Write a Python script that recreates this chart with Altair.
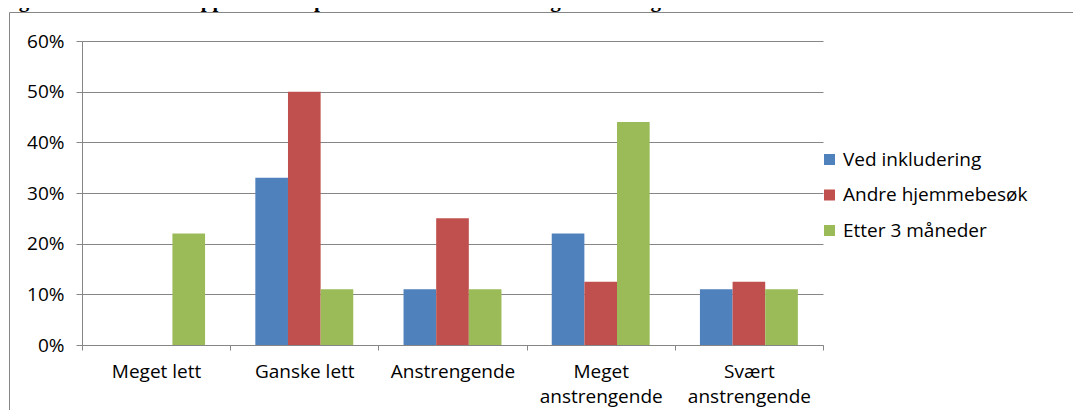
import altair as alt
import pandas as pd

categories = ["Meget lett", "Ganske lett", "Anstrengende", "Meget anstrengende", "Svært anstrengende"]
series = ["Ved inkludering", "Andre hjemmebesøk", "Etter 3 måneder"]
ved_inkludering = [0, 33, 11, 22, 11]
andre_hjemmebesok = [0, 50, 25, 12.5, 12.5]
etter_3_maneder = [22, 11, 11, 44, 11]
colors = ["#4F81BD", "#C0504D", "#9BBB59"]
y_ticks = [0, 0.1, 0.2, 0.3, 0.4, 0.5, 0.6]
title_text = "Figur 3: Deltakernes opplevelse av pusten ved aktivitet kartlagt med Borgskala"

rows = []
for s, vals in zip(series, [ved_inkludering, andre_hjemmebesok, etter_3_maneder]):
    for c, v in zip(categories, vals):
        rows.append({"Kategori": c, "Serie": s, "Verdi": v / 100})
df = pd.DataFrame(rows)

W, H = 741, 304
FONT = "Open Sans"
FS = 19
GRAY = "#868686"

bars = alt.Chart(df).mark_bar().encode(
    x=alt.X("Kategori:N", sort=categories,
            scale=alt.Scale(paddingInner=0, paddingOuter=0),
            axis=alt.Axis(title=None, labelAngle=0, tickBand="extent", tickSize=5,
                          tickColor=GRAY, domainColor=GRAY, labelFont=FONT, labelFontSize=FS,
                          labelColor="#000000", labelPadding=12, labelLineHeight=25,
                          labelBaseline="top", labelLimit=300,
                          labelExpr="indexof(datum.label, 'anstrengende') > 0 ? split(datum.label, ' ') : datum.label")),
    xOffset=alt.XOffset("Serie:N", sort=series,
                        scale=alt.Scale(paddingInner=0, paddingOuter=0.77)),
    y=alt.Y("Verdi:Q", scale=alt.Scale(domain=[0, 0.6], nice=False),
            axis=alt.Axis(title=None, values=y_ticks, format=".0%", tickSize=6,
                          tickColor=GRAY, domainColor=GRAY, gridColor=GRAY, grid=True,
                          labelFont=FONT, labelFontSize=FS, labelColor="#000000",
                          labelPadding=12)),
    color=alt.Color("Serie:N", sort=series,
                    scale=alt.Scale(domain=series, range=colors),
                    legend=alt.Legend(title=None, orient="none", legendX=738, legendY=109,
                                      symbolType="square", symbolSize=121, symbolStrokeWidth=0,
                                      labelFont=FONT, labelFontSize=FS, labelColor="#000000",
                                      labelOffset=4, rowPadding=15.5, labelLimit=400)),
)

frame = alt.Chart(pd.DataFrame({"a": [0]})).mark_rect(
    filled=False, stroke=GRAY, strokeWidth=1
).encode(
    x=alt.value(-72.5), x2=alt.value(1200), y=alt.value(-28.5), y2=alt.value(600)
)

title = alt.Chart(pd.DataFrame({"t": [title_text]})).mark_text(
    align="left", baseline="alphabetic", font="Liberation Serif", fontWeight="bold",
    fontSize=21, color="#000000"
).encode(
    text="t:N", x=alt.value(-82), y=alt.value(-34)
)

chart = alt.layer(frame, bars, title).properties(
    width=W, height=H,
    autosize=alt.AutoSizeParams(type="none"),
    padding={"left": 74, "top": 33, "right": 250, "bottom": 65},
).configure_view(stroke=None)

chart.save("out.html", embed_options={"renderer": "svg", "actions": False})
